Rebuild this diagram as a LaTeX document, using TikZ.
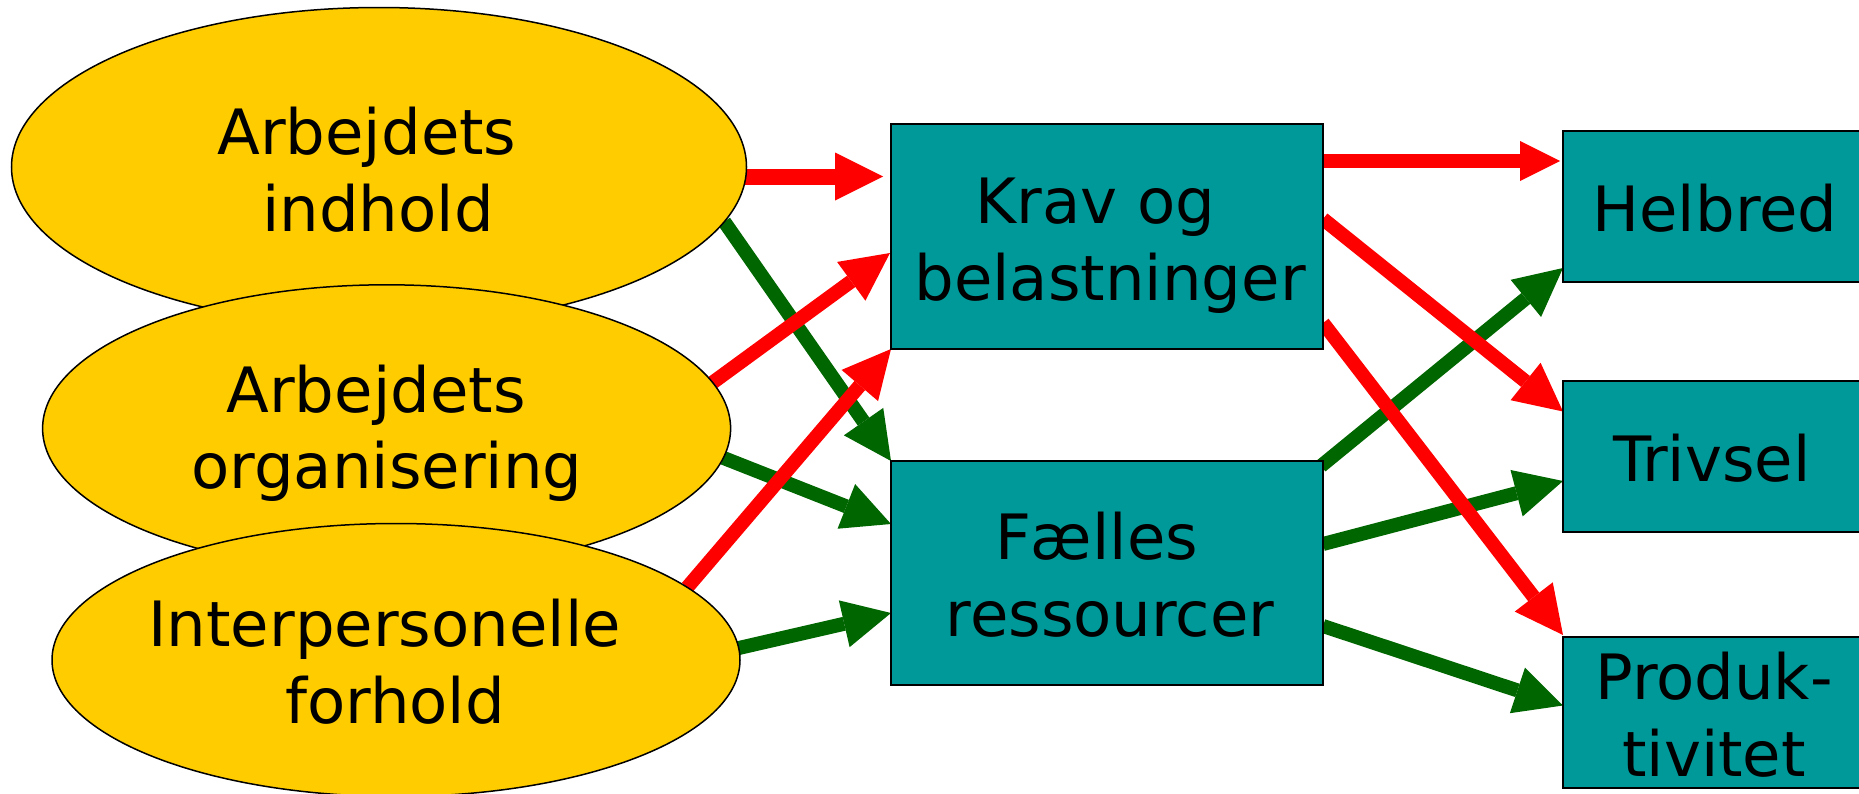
\documentclass[tikz,border=0pt]{standalone}
\usepackage{fontspec}
\setmainfont{DejaVu Sans}
\usetikzlibrary{arrows.meta,shapes.geometric,calc,backgrounds}
\definecolor{ellyellow}{HTML}{FFCC00}
\definecolor{boxteal}{HTML}{009999}
\definecolor{arrred}{HTML}{FF0000}
\definecolor{arrgreen}{HTML}{006600}
\newcommand\gapsp[1]{\rule{#1em}{0pt}}
\begin{document}
\begin{tikzpicture}[x=0.5pt,y=-0.5pt,
  ellbox/.style={ellipse, draw=black, line width=0.75pt, fill=ellyellow, inner sep=0pt, outer sep=0pt},
  tealbox/.style={rectangle, draw=black, line width=1pt, fill=boxteal, inner sep=0pt, outer sep=0pt},
  lbl/.style={align=center, inner sep=0pt, outer sep=0pt, text=black, font=\fontsize{31.25pt}{38.5pt}\selectfont},
  redarr/.style={draw=arrred, line width=7pt, -{Triangle[length=24pt,width=24pt,line width=0pt]}},
  greenarr/.style={draw=arrgreen, line width=7pt, -{Triangle[length=24pt,width=24pt,line width=0pt]}},
]
\useasboundingbox (0,0) rectangle (1859,793);

% ellipses
\node[ellbox, minimum width=367.5pt, minimum height=159.5pt] (E1) at (379,167) {};
\node[ellbox, minimum width=344pt, minimum height=143.6pt] (E2) at (386.6,428.4) {};
\node[ellbox, minimum width=344pt, minimum height=136.5pt] (E3) at (396,660) {};

% boxes
\node[tealbox, minimum width=216pt, minimum height=112.5pt] (krav) at (1107,236.5) {};
\node[tealbox, minimum width=216pt, minimum height=112pt] (faelles) at (1107,573) {};
\node[tealbox, minimum width=151.5pt, minimum height=75.5pt] (helbred) at (1714.5,206.5) {};
\node[tealbox, minimum width=151.5pt, minimum height=75.5pt] (trivsel) at (1714.5,456.5) {};
\node[tealbox, minimum width=151.5pt, minimum height=75.5pt] (produk) at (1714.5,712.5) {};

% labels
\node[lbl] (t1) at (367,169.75) {Arbejdets\\\gapsp{0.35}indhold};
\node[lbl] (t2) at (387,433.25) {Arbejdets\gapsp{0.35}\\organisering};
\node[lbl] (t3) at (384.7,662) {Interpersonelle\\\gapsp{0.33}forhold};
\node[lbl] (t4) at (1110,246.2) {Krav og\gapsp{0.46}\\belastninger};
\node[lbl] (t5) at (1110,574.75) {Fælles\gapsp{0.43}\\ressourcer};
\node[lbl] (t6) at (1715,208) {Helbred};
\node[lbl] (t7) at (1711.8,458.5) {Trivsel};
\node[lbl] (t8) at (1714,714.4) {Produk-\\tivitet};

\begin{pgfonlayer}{background}
% green connectors
\draw[greenarr] (E1.-9.2) -- (faelles.north west);
\draw[greenarr] (E2.-5.8) -- ($(faelles.west)+(0,-49)$);
\draw[greenarr] (E3.2.8) -- ($(faelles.west)+(0,40)$);
\draw[greenarr] ($(faelles.north east)+(-2,5)$) -- ($(helbred.west)+(0,61.5)$);
\draw[greenarr] ($(faelles.east)+(0,-29)$) -- ($(trivsel.west)+(0,24.5)$);
\draw[greenarr] ($(faelles.east)+(0,53)$) -- ($(produk.west)+(0,-7)$);
% red connectors
\draw[redarr, line width=8pt] ($(E1.east)+(-4,9.5)$) -- ($(krav.west)+(-8,-60)$);
\draw[redarr] (E2.8.4) -- ($(krav.west)+(-1,16.5)$);
\draw[redarr] (E3.14.8) -- (krav.south west);
\draw[redarr, -{Triangle[length=20pt,width=20pt,line width=0pt]}] ($(krav.east)+(0,-75.5)$) -- ($(helbred.west)+(-3,-45.5)$);
\draw[redarr] ($(krav.east)+(0,-17.5)$) -- ($(trivsel.west)+(0,-45)$);
\draw[redarr] ($(krav.east)+(0,86.5)$) -- ($(produk.north west)+(0,-2)$);
\end{pgfonlayer}
\end{tikzpicture}
\end{document}
